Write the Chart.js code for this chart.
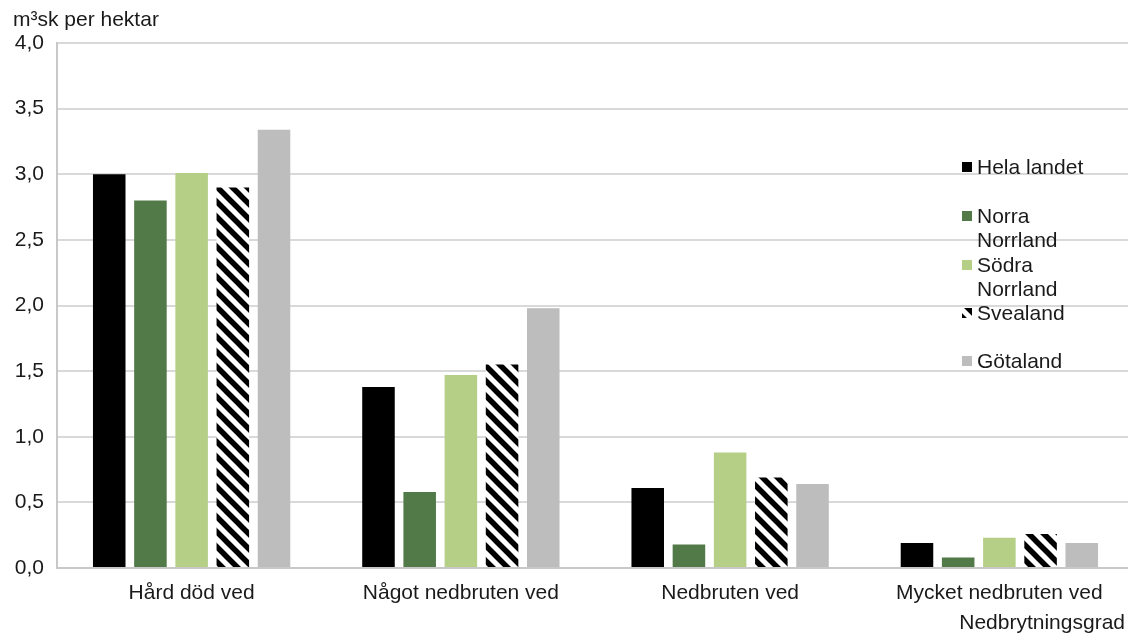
<!DOCTYPE html>
<html>
<head>
<meta charset="utf-8">
<script src="https://cdn.jsdelivr.net/npm/chart.js@4"></script>
<style>
  html, body { margin: 0; padding: 0; background: #fff; overflow: hidden; }
  #wrap { width: 1128px; height: 635px; overflow: hidden; }
</style>
</head>
<body>
<div id="wrap"><canvas id="chart" width="1140" height="635"></canvas></div>
<script>
const categories = ["Hård död ved", "Något nedbruten ved", "Nedbruten ved", "Mycket nedbruten ved"];
const helaLandet = [3.0, 1.38, 0.61, 0.19];
const norraNorrland = [2.8, 0.58, 0.18, 0.08];
const sodraNorrland = [3.01, 1.47, 0.88, 0.23];
const svealand = [2.9, 1.55, 0.69, 0.26];
const gotaland = [3.34, 1.98, 0.64, 0.19];
const yTicks = [0, 0.5, 1.0, 1.5, 2.0, 2.5, 3.0, 3.5, 4.0];

const FONT = "'Liberation Sans', Arial, sans-serif";
const TEXT = "#1a1a1a";
const SIZE = 21;

// diagonal stripes for Svealand
function makeHatch() {
  const s = 15;
  const c = document.createElement("canvas");
  c.width = s; c.height = s;
  const g = c.getContext("2d");
  g.fillStyle = "#fff";
  g.fillRect(0, 0, s, s);
  g.strokeStyle = "#000";
  g.lineWidth = 5.5;
  g.beginPath();
  g.moveTo(-s, 0); g.lineTo(s, 2 * s);
  g.moveTo(0, 0); g.lineTo(s, s);
  g.moveTo(0, -s); g.lineTo(2 * s, s);
  g.stroke();
  return g.createPattern(c, "repeat");
}
const hatch = makeHatch();

const series = [
  { label: ["Hela landet"], data: helaLandet, color: "#000000" },
  { label: ["Norra", "Norrland"], data: norraNorrland, color: "#517A48" },
  { label: ["Södra", "Norrland"], data: sodraNorrland, color: "#B5CF87" },
  { label: ["Svealand"], data: svealand, color: hatch },
  { label: ["Götaland"], data: gotaland, color: "#BDBDBD" },
];

const textPlugin = {
  id: "texts",
  afterDraw(chart) {
    const ctx = chart.ctx;
    ctx.save();
    ctx.fillStyle = TEXT;
    ctx.font = SIZE + "px " + FONT;
    ctx.textBaseline = "alphabetic";
    ctx.textAlign = "left";
    ctx.fillText("m³sk per hektar", 13, 26);
    ctx.textAlign = "right";
    ctx.fillText("Nedbrytningsgrad", 1125, 629);
    // legend
    const rows = [167, 216, 265, 313, 361];
    ctx.textAlign = "left";
    ctx.textBaseline = "middle";
    series.forEach((s, i) => {
      const y = rows[i];
      ctx.fillStyle = s.color;
      ctx.fillRect(962, y - 5, 10, 10);
      ctx.fillStyle = TEXT;
      s.label.forEach((line, j) => ctx.fillText(line, 977, y + 1 + j * 24));
    });
    ctx.restore();
  },
};

new Chart(document.getElementById("chart"), {
  type: "bar",
  data: {
    labels: categories,
    datasets: series.map((s) => ({
      label: s.label.join(" "),
      data: s.data,
      backgroundColor: s.color,
      borderWidth: 0,
      categoryPercentage: 0.765,
      barPercentage: 0.79,
    })),
  },
  options: {
    responsive: false,
    animation: false,
    layout: { padding: { top: 43, right: 6, bottom: 0, left: 0 } },
    plugins: { legend: { display: false }, tooltip: { enabled: false } },
    scales: {
      x: {
        grid: { display: false, drawTicks: false },
        border: { color: "#C8C8C8", width: 2 },
        ticks: { color: TEXT, font: { family: FONT, size: SIZE }, padding: 13, maxRotation: 0 },
        afterFit: (s) => { s.height = 67; },
      },
      y: {
        min: 0,
        max: 4,
        afterBuildTicks: (s) => { s.ticks = yTicks.map((v) => ({ value: v })); },
        grid: { color: "#D9D9D9", lineWidth: 2, drawTicks: false },
        border: { color: "#C8C8C8", width: 2 },
        ticks: {
          color: TEXT,
          font: { family: FONT, size: SIZE },
          padding: 13,
          callback: (v) => v.toFixed(1).replace(".", ","),
        },
        afterFit: (s) => { s.width = 57; },
      },
    },
  },
  plugins: [textPlugin],
});
</script>
</body>
</html>
